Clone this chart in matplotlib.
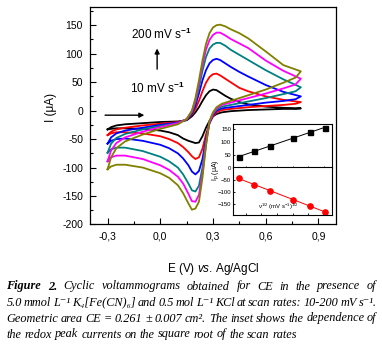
import matplotlib
matplotlib.use("Agg")
import matplotlib.pyplot as plt
from matplotlib.ticker import MultipleLocator, FuncFormatter
import numpy as np

plt.rcParams['font.family'] = ['Liberation Sans', 'DejaVu Sans']
plt.rcParams['mathtext.fontset'] = 'custom'
plt.rcParams['mathtext.rm'] = 'Liberation Sans'
plt.rcParams['mathtext.it'] = 'Liberation Sans:italic'
plt.rcParams['mathtext.bf'] = 'Liberation Sans:bold'

# potentials (V vs Ag/AgCl) for the forward and reverse sweeps
e_fwd = [-0.30, -0.28, -0.25, -0.20, -0.10, 0.00, 0.10, 0.15, 0.18, 0.20, 0.22, 0.24,
         0.26, 0.28, 0.30, 0.32, 0.34, 0.37, 0.40, 0.45, 0.50, 0.60, 0.70, 0.80]
e_rev = [0.80, 0.77, 0.70, 0.60, 0.50, 0.40, 0.35, 0.32, 0.30, 0.28, 0.26, 0.24, 0.22,
         0.20, 0.18, 0.16, 0.13, 0.10, 0.05, 0.00, -0.10, -0.20, -0.25, -0.28, -0.30]

# currents (uA), one pair per scan rate
i_fwd_10 = [-33, -29, -26, -24, -22, -20, -19, -17, -10, -3, 6, 17, 27, 34, 37, 36, 32, 26, 21, 15, 11, 7, 5, 4]
i_rev_10 = [4, 3, 3, 2, 1, -1, -3, -6, -10, -18, -30, -45, -56, -57, -55, -53, -49, -43, -38, -35, -32, -31, -31, -32, -33]
i_fwd_25 = [-43, -37, -33, -30, -26, -23, -20, -16, -7, 3, 17, 34, 49, 59, 64, 65, 62, 56, 50, 40, 34, 25, 19, 15]
i_rev_25 = [15, 12, 10, 8, 6, 3, 1, -3, -10, -22, -42, -67, -82, -85, -80, -73, -64, -57, -50, -45, -40, -38, -38, -40, -43]
i_fwd_50 = [-58, -47, -40, -35, -30, -25, -21, -16, -5, 9, 30, 53, 71, 83, 89, 91, 89, 83, 77, 68, 60, 45, 33, 25]
i_rev_50 = [25, 20, 17, 14, 10, 6, 4, 0, -8, -22, -50, -85, -106, -112, -107, -96, -84, -75, -66, -60, -53, -49, -50, -53, -58]
i_fwd_100 = [-74, -58, -48, -41, -33, -27, -22, -15, -3, 15, 40, 70, 94, 109, 116, 119, 119, 114, 107, 98, 89, 71, 55, 41]
i_rev_100 = [41, 34, 29, 22, 16, 10, 7, 2, -6, -20, -55, -100, -132, -142, -140, -128, -112, -100, -89, -81, -71, -65, -65, -68, -74]
i_fwd_150 = [-89, -70, -57, -47, -37, -29, -22, -15, -1, 18, 47, 80, 107, 124, 133, 137, 137, 132, 126, 118, 110, 88, 70, 56]
i_rev_150 = [56, 46, 39, 30, 22, 14, 10, 4, -5, -20, -60, -110, -148, -160, -159, -146, -128, -116, -104, -96, -85, -79, -79, -82, -89]
i_fwd_200 = [-103, -82, -66, -54, -42, -32, -24, -15, 0, 22, 53, 88, 117, 136, 146, 150, 151, 148, 143, 136, 127, 104, 80, 69]
i_rev_200 = [69, 58, 49, 37, 27, 17, 12, 6, -3, -18, -62, -118, -160, -172, -174, -163, -145, -131, -118, -110, -100, -95, -95, -98, -103]

colors = ['black', '#ff0000', '#0000ff', '#008080', '#ff00ff', '#808000']

# inset: peak currents vs square root of scan rate
sqrt_v = [3.16, 5.0, 7.07, 10.0, 12.25, 14.14]
ipa = [40, 64, 85, 116, 140, 154]
ipc = [-44, -70, -96, -132, -160, -181]

x_ticks = [-0.3, 0.0, 0.3, 0.6, 0.9]
x_ticklabels = ['-0,3', '0,0', '0,3', '0,6', '0,9']

W, H = 382, 353
fig = plt.figure(figsize=(W / 100, H / 100), dpi=100)


def box(l, t, r, b):
    return [l / W, 1 - b / H, (r - l) / W, (b - t) / H]


ax = fig.add_axes(box(90, 7, 336, 224.5))
curves = [(i_fwd_10, i_rev_10), (i_fwd_25, i_rev_25), (i_fwd_50, i_rev_50),
          (i_fwd_100, i_rev_100), (i_fwd_150, i_rev_150), (i_fwd_200, i_rev_200)]
for (fwd, rev), c in zip(curves, colors):
    ax.plot(e_fwd + e_rev, fwd + rev, color=c, lw=1.3, solid_joinstyle='round')

ax.set_xlim(-0.4, 1.0)
ax.set_ylim(-200, 182)
ax.set_xticks(x_ticks)
ax.set_xticklabels(x_ticklabels)
ax.xaxis.set_minor_locator(MultipleLocator(0.15))
ax.yaxis.set_major_locator(MultipleLocator(50))
ax.yaxis.set_minor_locator(MultipleLocator(25))
ax.yaxis.set_major_formatter(FuncFormatter(lambda v, p: '%d' % v))
ax.tick_params(which='both', direction='in', top=False, right=False, width=0.8)
ax.tick_params(which='major', length=4, labelsize=7.5, pad=5)
ax.tick_params(which='minor', length=2.5)
for s in ax.spines.values():
    s.set_linewidth(0.9)

ax.annotate('', xy=(-0.018, 114), xytext=(-0.018, 68),
            arrowprops=dict(arrowstyle='-|>', color='black', lw=1.0, mutation_scale=7))
ax.annotate('', xy=(-0.075, -8), xytext=(-0.33, -8),
            arrowprops=dict(arrowstyle='-|>', color='black', lw=1.0, mutation_scale=7))
ax.text(0.007, 134, r'200 mV s$^{\mathbf{-1}}$', ha='center', va='center', fontsize=8.5)
ax.text(-0.018, 39, r'10 mV s$^{\mathbf{-1}}$', ha='center', va='center', fontsize=8.5)

fig.text(51 / W, 1 - 107 / H, 'I (μA)', rotation=90, ha='center', va='center', fontsize=8.5)
fig.text(213 / W, 1 - 269 / H, r'E (V) $\it{vs}$. Ag/AgCl', ha='center', va='center', fontsize=8.5)

# inset, two stacked panels
ins_top = fig.add_axes(box(232.5, 124.5, 332, 167.5))
ins_bot = fig.add_axes(box(232.5, 167.5, 332, 215.5))
fa = np.polyfit(sqrt_v, ipa, 1)
fc = np.polyfit(sqrt_v, ipc, 1)
xs = np.array([sqrt_v[0], sqrt_v[-1]])
ins_top.plot(xs, np.polyval(fa, xs), color='black', lw=0.7)
ins_top.plot(sqrt_v, ipa, 's', color='black', ms=3.6)
ins_bot.plot(xs, np.polyval(fc, xs), color='#ff0000', lw=0.7)
ins_bot.plot(sqrt_v, ipc, 'o', color='#ff0000', ms=3.8)

for a in (ins_top, ins_bot):
    a.set_xlim(2.3, 15.0)
    a.set_xticks([4, 6, 8, 10, 12, 14])
    a.tick_params(which='both', direction='in', labelsize=4.3, length=1.5, width=0.6, pad=1)
    for s in a.spines.values():
        s.set_linewidth(0.8)
ins_top.set_ylim(0, 168)
ins_top.set_yticks([0, 50, 100, 150])
ins_top.tick_params(axis='x', pad=1.2)
ins_bot.set_ylim(-197, 0)
ins_bot.set_yticks([-150, -100, -50])
ins_bot.tick_params(axis='x', labelbottom=False)
ins_bot.text(0.46, 0.07, r'ν$^{1/2}$ (mV s$^{-1}$)$^{1/2}$', transform=ins_bot.transAxes,
             ha='center', va='bottom', fontsize=4.3)
fig.text(215.5 / W, 1 - 170 / H, r'I$_\mathrm{p}$ (μA)', rotation=90, ha='center', va='center',
         fontsize=5)

# caption, justified like the printed figure
cap_lines = [
    [('Figure 2.', 'bold'), ('Cyclic voltammograms obtained for CE in the presence of', 'normal')],
    [('5.0 mmol L⁻¹ K₄[Fe(CN)₆] and 0.5 mol L⁻¹ KCl at scan rates: 10-200 mV s⁻¹.', 'normal')],
    [('Geometric area CE = 0.261 ± 0.007 cm². The inset shows the dependence of', 'normal')],
    [('the redox peak currents on the square root of the scan rates', 'normal')],
]
cap_left, cap_right = 6.5, 376.5
cap_y = [286.5, 302.5, 318.5, 334.5]
serif = ['Liberation Serif', 'DejaVu Serif']
renderer = fig.canvas.get_renderer()
for n, (parts, y) in enumerate(zip(cap_lines, cap_y)):
    words = []
    for txt, wt in parts:
        words += [(w, wt) for w in txt.split(' ')]
    objs = [fig.text(0, 1 - y / H, w, family=serif, style='italic', weight=wt,
                     fontsize=8.8, ha='left', va='center') for w, wt in words]
    widths = [o.get_window_extent(renderer).width for o in objs]
    if n < len(cap_lines) - 1:
        gap = (cap_right - cap_left - sum(widths)) / (len(objs) - 1)
    else:
        gap = 3.0
    x = cap_left
    for o, wdt in zip(objs, widths):
        o.set_x(x / W)
        x += wdt + gap

fig.savefig('out.png', dpi=100, facecolor='white')
